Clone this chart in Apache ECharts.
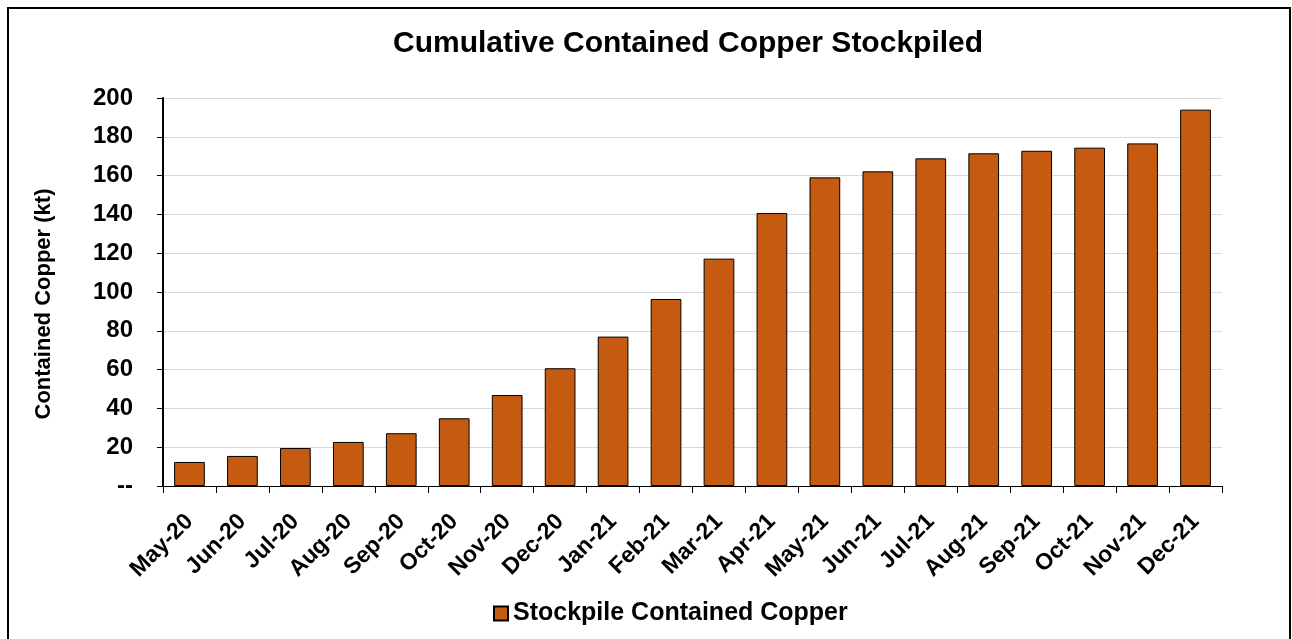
<!DOCTYPE html>
<html>
<head>
<meta charset="utf-8">
<script src="https://cdn.jsdelivr.net/npm/echarts@6/dist/echarts.min.js"></script>
<style>
html,body{margin:0;padding:0;background:#fff;}
#chart{width:1292px;height:639px;}
</style>
</head>
<body>
<div id="chart"></div>
<script>
const categories = ["May-20","Jun-20","Jul-20","Aug-20","Sep-20","Oct-20","Nov-20","Dec-20","Jan-21","Feb-21","Mar-21","Apr-21","May-21","Jun-21","Jul-21","Aug-21","Sep-21","Oct-21","Nov-21","Dec-21"];
const stockpileCopper = [12.4,15.5,19.6,22.7,27.2,34.9,46.9,60.7,77.0,96.4,117.2,140.7,159.1,162.2,168.9,171.5,172.8,174.4,176.6,194.0];
const seriesName = "Stockpile Contained Copper";
const titleText = "Cumulative Contained Copper Stockpiled";
const yAxisTitle = "Contained Copper (kt)";

const FONT = '"Liberation Sans", Arial, sans-serif';
const chart = echarts.init(document.getElementById('chart'), null, {renderer:'canvas'});
chart.setOption({
  animation:false,
  backgroundColor:'#fff',
  graphic:[{type:'rect',shape:{x:8,y:8,width:1282,height:660},style:{fill:'none',stroke:'#000',lineWidth:2},silent:true,z:100}],
  title:{text:titleText,left:388,top:24,textStyle:{fontFamily:FONT,fontWeight:'bold',fontSize:30,color:'#000'}},
  legend:{bottom:8,left:488,itemWidth:14,itemHeight:14,itemGap:10,
    textStyle:{fontFamily:FONT,fontWeight:'bold',fontSize:25,color:'#000'},
    data:[{name:seriesName,icon:'rect'}]},
  grid:{left:163,right:70,top:98,bottom:153,containLabel:false},
  xAxis:{type:'category',data:categories,boundaryGap:true,
    axisLine:{lineStyle:{color:'#000',width:1}},
    axisTick:{show:true,alignWithLabel:false,length:7,lineStyle:{color:'#000'}},
    axisLabel:{rotate:45,margin:32,interval:0,fontFamily:FONT,fontWeight:'bold',fontSize:23,color:'#000'}},
  yAxis:{type:'value',min:0,max:200,interval:20,
    name:yAxisTitle,nameLocation:'middle',nameGap:108,nameRotate:90,
    nameTextStyle:{fontFamily:FONT,fontWeight:'bold',fontSize:22,color:'#000',padding:[0,24,0,0]},
    axisLine:{show:true,lineStyle:{color:'#000',width:2}},
    axisTick:{show:true,length:6,lineStyle:{color:'#000'}},
    splitLine:{lineStyle:{color:'#d9d9d9',width:1}},
    axisLabel:{margin:30,fontFamily:FONT,fontWeight:'bold',fontSize:24,color:'#000',
      formatter:function(v){return v===0?'--':String(v);}}},
  series:[{name:seriesName,type:'bar',data:stockpileCopper,barCategoryGap:'42%',
    itemStyle:{color:'#C55A11',borderColor:'#000',borderWidth:1}}]
});
</script>
</body>
</html>
